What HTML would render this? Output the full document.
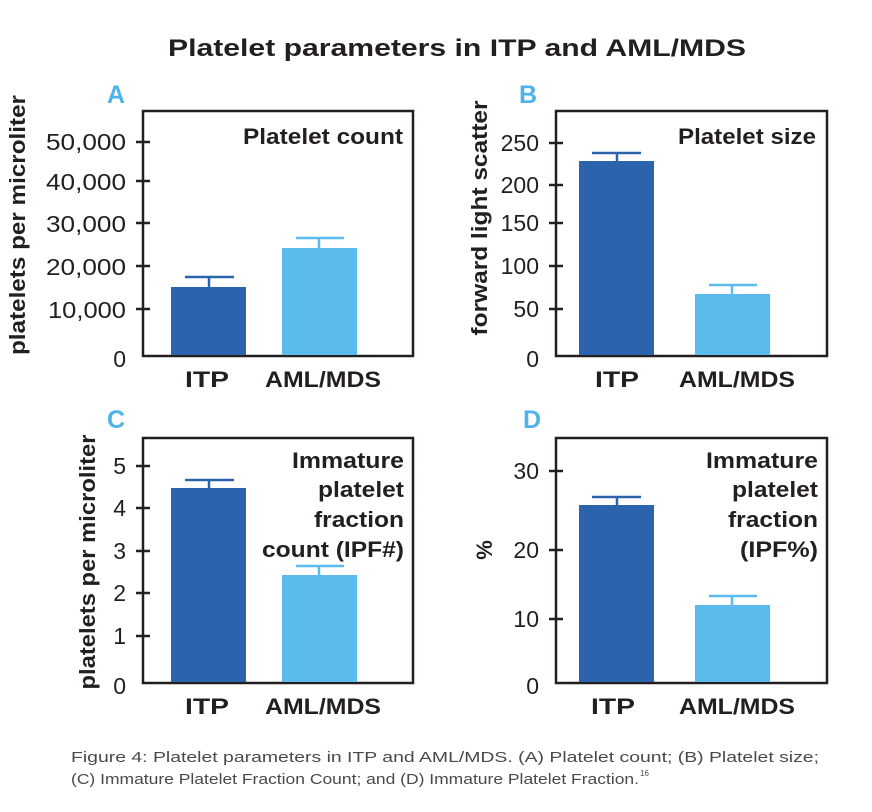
<!DOCTYPE html>
<html><head><meta charset="utf-8"><style>
html,body{margin:0;padding:0;background:#fff;}
svg{display:block;font-family:"Liberation Sans",sans-serif;}
.t{font-size:23px;fill:#231f20;}
.b{font-size:22px;font-weight:bold;fill:#231f20;}
.ax{fill:none;stroke:#231f20;stroke-width:2.5;}
.tk{stroke:#231f20;stroke-width:2.5;}
.L{font-size:25px;font-weight:bold;fill:#4db3ea;}
.yl{font-size:22px;font-weight:bold;fill:#231f20;}
</style></head><body>
<svg width="872" height="812" viewBox="0 0 872 812">
<text x="457" y="56" text-anchor="middle" font-size="24" fill="#231f20" font-weight="bold" textLength="578" lengthAdjust="spacingAndGlyphs">Platelet parameters in ITP and AML/MDS</text>

<!-- Panel A -->
<text class="L" x="107" y="103">A</text>
<rect class="ax" x="143" y="111" width="270" height="245"/>
<g class="tk"><line x1="136" y1="142" x2="150" y2="142"/><line x1="136" y1="181" x2="150" y2="181"/><line x1="136" y1="223" x2="150" y2="223"/><line x1="136" y1="266" x2="150" y2="266"/><line x1="136" y1="309" x2="150" y2="309"/></g>
<g class="t" text-anchor="end"><text x="126" y="150" textLength="80" lengthAdjust="spacingAndGlyphs">50,000</text><text x="126" y="190" textLength="80" lengthAdjust="spacingAndGlyphs">40,000</text><text x="126" y="232" textLength="80" lengthAdjust="spacingAndGlyphs">30,000</text><text x="126" y="275" textLength="80" lengthAdjust="spacingAndGlyphs">20,000</text><text x="126" y="318" textLength="78" lengthAdjust="spacingAndGlyphs">10,000</text><text x="126" y="367">0</text></g>
<rect x="171" y="287" width="75" height="68" fill="#2b64ad"/>
<path d="M209 287V277M185 277H234" stroke="#2b64ad" stroke-width="2.5"/>
<rect x="282" y="248" width="75" height="107" fill="#5bbbec"/>
<path d="M319 248V238M296 238H344" stroke="#5bbbec" stroke-width="2.5"/>
<text class="b" x="403" y="144" text-anchor="end" textLength="160" lengthAdjust="spacingAndGlyphs">Platelet count</text>
<text class="b" x="207" y="387" text-anchor="middle" textLength="44" lengthAdjust="spacingAndGlyphs">ITP</text>
<text class="b" x="323" y="387" text-anchor="middle" textLength="116" lengthAdjust="spacingAndGlyphs">AML/MDS</text>
<text class="yl" transform="translate(25,225) rotate(-90)" text-anchor="middle" textLength="260" lengthAdjust="spacingAndGlyphs">platelets per microliter</text>

<!-- Panel B -->
<text class="L" x="519" y="103">B</text>
<rect class="ax" x="556" y="111" width="271" height="245"/>
<g class="tk"><line x1="549" y1="143" x2="563" y2="143"/><line x1="549" y1="185" x2="563" y2="185"/><line x1="549" y1="223" x2="563" y2="223"/><line x1="549" y1="266" x2="563" y2="266"/><line x1="549" y1="309" x2="563" y2="309"/></g>
<g class="t" text-anchor="end"><text x="539" y="151">250</text><text x="539" y="193">200</text><text x="539" y="231">150</text><text x="539" y="274">100</text><text x="539" y="317">50</text><text x="539" y="367">0</text></g>
<rect x="579" y="161" width="75" height="194" fill="#2b64ad"/>
<path d="M617 161V153M592 153H641" stroke="#2b64ad" stroke-width="2.5"/>
<rect x="695" y="294" width="75" height="61" fill="#5bbbec"/>
<path d="M732 294V285M709 285H757" stroke="#5bbbec" stroke-width="2.5"/>
<text class="b" x="816" y="144" text-anchor="end" textLength="138" lengthAdjust="spacingAndGlyphs">Platelet size</text>
<text class="b" x="617" y="387" text-anchor="middle" textLength="44" lengthAdjust="spacingAndGlyphs">ITP</text>
<text class="b" x="737" y="387" text-anchor="middle" textLength="116" lengthAdjust="spacingAndGlyphs">AML/MDS</text>
<text class="yl" transform="translate(487,218) rotate(-90)" text-anchor="middle" textLength="235" lengthAdjust="spacingAndGlyphs">forward light scatter</text>

<!-- Panel C -->
<text class="L" x="107" y="428">C</text>
<rect class="ax" x="143" y="438" width="270" height="245"/>
<g class="tk"><line x1="136" y1="466" x2="150" y2="466"/><line x1="136" y1="508" x2="150" y2="508"/><line x1="136" y1="551" x2="150" y2="551"/><line x1="136" y1="593" x2="150" y2="593"/><line x1="136" y1="636" x2="150" y2="636"/></g>
<g class="t" text-anchor="end"><text x="126" y="474">5</text><text x="126" y="516">4</text><text x="126" y="559">3</text><text x="126" y="601">2</text><text x="126" y="644">1</text><text x="126" y="694">0</text></g>
<rect x="171" y="488" width="75" height="194" fill="#2b64ad"/>
<path d="M209 488V480M185 480H234" stroke="#2b64ad" stroke-width="2.5"/>
<rect x="282" y="575" width="75" height="107" fill="#5bbbec"/>
<path d="M319 575V566M296 566H344" stroke="#5bbbec" stroke-width="2.5"/>
<g class="b" text-anchor="end"><text x="404" y="468" textLength="112" lengthAdjust="spacingAndGlyphs">Immature</text><text x="404" y="497" textLength="86" lengthAdjust="spacingAndGlyphs">platelet</text><text x="404" y="527" textLength="90" lengthAdjust="spacingAndGlyphs">fraction</text><text x="404" y="557" textLength="142" lengthAdjust="spacingAndGlyphs">count (IPF#)</text></g>
<text class="b" x="207" y="714" text-anchor="middle" textLength="44" lengthAdjust="spacingAndGlyphs">ITP</text>
<text class="b" x="323" y="714" text-anchor="middle" textLength="116" lengthAdjust="spacingAndGlyphs">AML/MDS</text>
<text class="yl" transform="translate(95,562) rotate(-90)" text-anchor="middle" textLength="255" lengthAdjust="spacingAndGlyphs">platelets per microliter</text>

<!-- Panel D -->
<text class="L" x="523" y="428">D</text>
<rect class="ax" x="556" y="438" width="271" height="245"/>
<g class="tk"><line x1="549" y1="471" x2="563" y2="471"/><line x1="549" y1="550" x2="563" y2="550"/><line x1="549" y1="619" x2="563" y2="619"/></g>
<g class="t" text-anchor="end"><text x="539" y="479">30</text><text x="539" y="558">20</text><text x="539" y="627">10</text><text x="539" y="694">0</text></g>
<rect x="579" y="505" width="75" height="177" fill="#2b64ad"/>
<path d="M617 505V497M592 497H641" stroke="#2b64ad" stroke-width="2.5"/>
<rect x="695" y="605" width="75" height="77" fill="#5bbbec"/>
<path d="M732 605V596M709 596H757" stroke="#5bbbec" stroke-width="2.5"/>
<g class="b" text-anchor="end"><text x="818" y="468" textLength="112" lengthAdjust="spacingAndGlyphs">Immature</text><text x="818" y="497" textLength="86" lengthAdjust="spacingAndGlyphs">platelet</text><text x="818" y="527" textLength="90" lengthAdjust="spacingAndGlyphs">fraction</text><text x="818" y="557" textLength="78" lengthAdjust="spacingAndGlyphs">(IPF%)</text></g>
<text class="b" x="613" y="714" text-anchor="middle" textLength="44" lengthAdjust="spacingAndGlyphs">ITP</text>
<text class="b" x="737" y="714" text-anchor="middle" textLength="116" lengthAdjust="spacingAndGlyphs">AML/MDS</text>
<text class="yl" transform="translate(492,550) rotate(-90)" text-anchor="middle">%</text>

<!-- caption -->
<g font-size="15" fill="#4a4a4a">
<text x="71" y="762" textLength="748" lengthAdjust="spacingAndGlyphs">Figure 4:  Platelet parameters in ITP and AML/MDS.  (A) Platelet count; (B) Platelet size;</text>
<text x="71" y="784" textLength="568" lengthAdjust="spacingAndGlyphs">(C) Immature Platelet Fraction Count; and (D) Immature Platelet Fraction.</text>
<text x="640" y="776" font-size="8">16</text>
</g>
</svg>
</body></html>
